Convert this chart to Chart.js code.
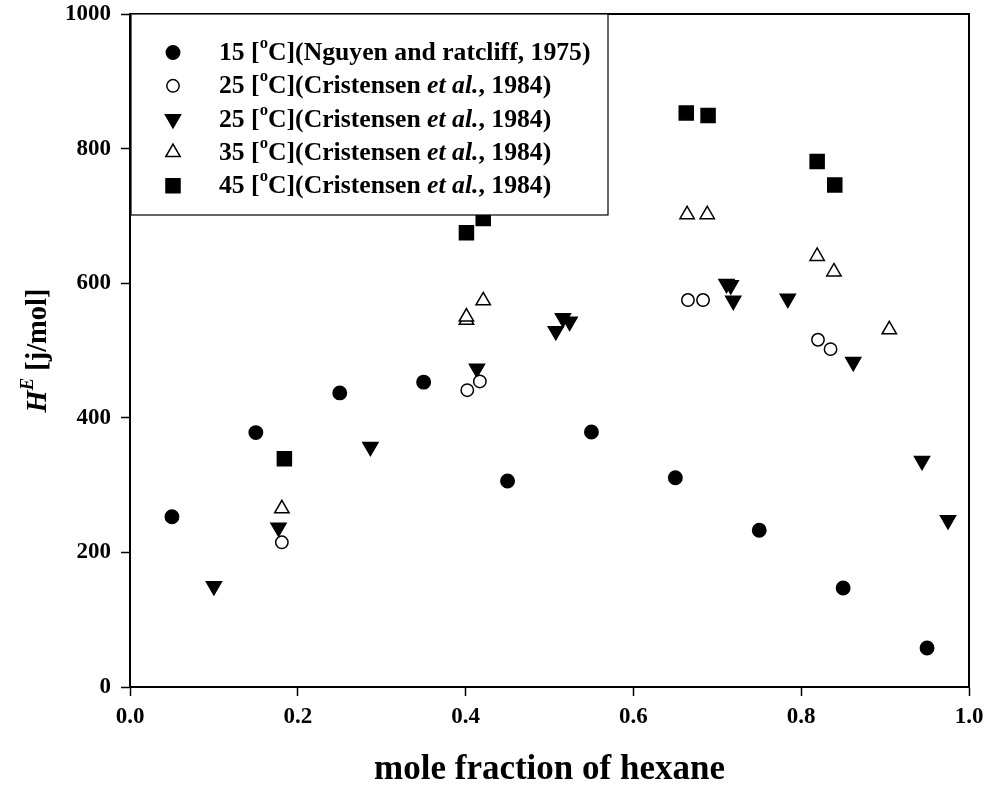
<!DOCTYPE html>
<html>
<head>
<meta charset="utf-8">
<script src="https://cdn.jsdelivr.net/npm/chart.js@4/dist/chart.umd.min.js"></script>
<style>
    body { margin: 0; background: #fff; }
    #wrap { width: 987px; height: 787px; }
</style>
</head>
<body>
<div id="wrap"><canvas id="graph" width="987" height="787"></canvas></div>
<script>
// 15 C, Nguyen and Ratcliff 1975 (filled circles)
const x15 = [0.05, 0.15, 0.25, 0.35, 0.45, 0.55, 0.65, 0.75, 0.85, 0.95]
const y15 = [253, 378, 437, 453, 306, 379, 311, 233, 147, 58]

// 25 C, Cristensen 1984 (open circles)
const x25a = [0.181, 0.402, 0.417, 0.665, 0.683, 0.82, 0.835]
const y25a = [215, 441, 454, 575, 575, 516, 502]

// 25 C, Cristensen 1984 (filled down triangles)
const x25b = [0.1, 0.177, 0.2865, 0.4135, 0.5075, 0.516, 0.524, 0.711, 0.716, 0.719, 0.784, 0.862, 0.944, 0.975]
const y25b = [150, 237, 357, 473, 529, 548, 543, 599, 597, 574, 577, 483, 336, 248]

// 35 C, Cristensen 1984 (open up triangles)
const x35 = [0.181, 0.401, 0.401, 0.421, 0.664, 0.688, 0.819, 0.839, 0.905]
const y35 = [265, 545, 550, 574, 702, 702, 640, 617, 531]

// 45 C, Cristensen 1984 (filled squares)
const x45 = [0.184, 0.401, 0.421, 0.663, 0.689, 0.819, 0.84]
const y45 = [339, 675, 696, 853, 849, 781, 746]

const xTicks = [0, 0.2, 0.4, 0.6, 0.8, 1.0]
const yTicks = [0, 200, 400, 600, 800, 1000]

const xTitle = "mole fraction of hexane"
const yTitle = [{ t: "H", it: true }, { t: "E", it: true, sup: true }, { t: " [j/mol]" }]

// legend texts, split so the superscript and italic parts can be drawn
const legendTexts = [
    [{ t: "15 [" }, { t: "o", sup: true }, { t: "C](Nguyen and ratcliff, 1975)" }],
    [{ t: "25 [" }, { t: "o", sup: true }, { t: "C](Cristensen " }, { t: "et al.", it: true }, { t: ", 1984)" }],
    [{ t: "25 [" }, { t: "o", sup: true }, { t: "C](Cristensen " }, { t: "et al.", it: true }, { t: ", 1984)" }],
    [{ t: "35 [" }, { t: "o", sup: true }, { t: "C](Cristensen " }, { t: "et al.", it: true }, { t: ", 1984)" }],
    [{ t: "45 [" }, { t: "o", sup: true }, { t: "C](Cristensen " }, { t: "et al.", it: true }, { t: ", 1984)" }],
]

const SERIF = '"Liberation Serif", "Times New Roman", serif'

const toPoints = (xs, ys) => xs.map((x, i) => ({ x, y: ys[i] }))

const markers = [
    { pointStyle: "circle", radius: 6.7, fill: "#000", rotation: 0 },
    { pointStyle: "circle", radius: 6.2, fill: "#fff", rotation: 0 },
    { pointStyle: "triangle", radius: 8.7, fill: "#000", rotation: 180 },
    { pointStyle: "triangle", radius: 8.3, fill: "#fff", rotation: 0 },
    { pointStyle: "rect", radius: 9.9, fill: "#000", rotation: 0 },
]

const seriesData = [
    toPoints(x15, y15),
    toPoints(x25a, y25a),
    toPoints(x25b, y25b),
    toPoints(x35, y35),
    toPoints(x45, y45),
]

const datasets = seriesData.map((data, i) => ({
    data,
    showLine: false,
    pointStyle: markers[i].pointStyle,
    pointRadius: markers[i].radius,
    pointHoverRadius: markers[i].radius,
    pointRotation: markers[i].rotation,
    pointBackgroundColor: markers[i].fill,
    pointBorderColor: "#000",
    pointBorderWidth: 1.5,
}))

const drawParts = (ctx, parts, x, y, size) => {
    for (let p of parts) {
        const s = p.sup ? size * 0.65 : size
        ctx.font = (p.it ? "italic " : "") + "bold " + s + "px " + SERIF
        const dy = p.sup ? -size * 0.38 : 0
        ctx.fillText(p.t, x, y + dy)
        x += ctx.measureText(p.t).width
    }
    return x
}

const partsWidth = (ctx, parts, size) => {
    let w = 0
    for (let p of parts) {
        const s = p.sup ? size * 0.65 : size
        ctx.font = (p.it ? "italic " : "") + "bold " + s + "px " + SERIF
        w += ctx.measureText(p.t).width
    }
    return w
}

const drawMarker = (ctx, m, x, y) => {
    ctx.save()
    ctx.fillStyle = m.fill
    ctx.strokeStyle = "#000"
    ctx.lineWidth = 1.5
    ctx.beginPath()
    if (m.pointStyle === "circle") {
        ctx.arc(x, y, m.radius, 0, Math.PI * 2)
    } else if (m.pointStyle === "triangle") {
        let rad = (m.rotation * Math.PI) / 180
        for (let k = 0; k < 3; k++) {
            const px = x + Math.sin(rad) * m.radius
            const py = y - Math.cos(rad) * m.radius
            if (k === 0) ctx.moveTo(px, py)
            else ctx.lineTo(px, py)
            rad += (Math.PI * 2) / 3
        }
        ctx.closePath()
    } else {
        const s = Math.SQRT1_2 * m.radius
        ctx.rect(x - s, y - s, 2 * s, 2 * s)
    }
    ctx.fill()
    ctx.stroke()
    ctx.restore()
}

const framePlugin = {
    id: "frame",
    afterDatasetsDraw(chart) {
        const { ctx, chartArea } = chart
        ctx.save()
        ctx.strokeStyle = "#000"
        ctx.lineWidth = 2
        ctx.beginPath()
        ctx.moveTo(chartArea.left, chartArea.top)
        ctx.lineTo(chartArea.right, chartArea.top)
        ctx.lineTo(chartArea.right, chartArea.bottom)
        ctx.stroke()
        ctx.restore()
    },
}

const legendPlugin = {
    id: "boxLegend",
    afterDraw(chart) {
        const { ctx, chartArea } = chart
        const left = chartArea.left + 1
        const top = chartArea.top
        const w = 477
        const h = 201
        ctx.save()
        ctx.fillStyle = "#fff"
        ctx.fillRect(left, top, w, h)
        ctx.strokeStyle = "#000"
        ctx.lineWidth = 1.2
        ctx.strokeRect(left, top, w, h)
        ctx.fillStyle = "#000"
        ctx.textBaseline = "middle"
        ctx.textAlign = "left"
        legendTexts.forEach((parts, i) => {
            const y = top + 38.5 + i * 33.3
            drawMarker(ctx, markers[i], left + 42, y)
            drawParts(ctx, parts, left + 88, y + 1, 25.7)
        })
        ctx.restore()
    },
}

const yTitlePlugin = {
    id: "yTitle",
    afterDraw(chart) {
        const { ctx, chartArea } = chart
        const size = 28.5
        ctx.save()
        ctx.translate(39, (chartArea.top + chartArea.bottom) / 2)
        ctx.rotate(-Math.PI / 2)
        ctx.fillStyle = "#000"
        ctx.textBaseline = "middle"
        ctx.textAlign = "left"
        const w = partsWidth(ctx, yTitle, size)
        drawParts(ctx, yTitle, -w / 2, 0, size)
        ctx.restore()
    },
}

const ctx1 = document.getElementById("graph")

const config = {
    type: "scatter",
    data: { datasets },
    options: {
        responsive: false,
        animation: false,
        events: [],
        layout: {
            padding: { top: 14, right: 18, left: 0, bottom: 0 },
        },
        plugins: {
            legend: { display: false },
            tooltip: { enabled: false },
        },
        scales: {
            x: {
                type: "linear",
                min: 0,
                max: 1,
                afterFit: (scale) => {
                    scale.height = 100
                    scale.paddingLeft = 0
                    scale.paddingRight = 0
                },
                afterBuildTicks: (scale) => {
                    scale.ticks = xTicks.map((v) => ({ value: v }))
                },
                border: { display: true, color: "#000", width: 2 },
                grid: {
                    display: true,
                    drawOnChartArea: false,
                    drawTicks: true,
                    tickLength: 9,
                    tickColor: "#000",
                    tickWidth: 1.5,
                },
                ticks: {
                    color: "#000",
                    padding: 7,
                    maxRotation: 0,
                    autoSkip: false,
                    font: { family: SERIF, size: 23, weight: "bold" },
                    callback: (v) => Number(v).toFixed(1),
                },
                title: {
                    display: true,
                    text: xTitle,
                    color: "#000",
                    padding: { top: 4, bottom: -4 },
                    font: { family: SERIF, size: 35, weight: "bold" },
                },
            },
            y: {
                type: "linear",
                min: 0,
                max: 1000,
                afterFit: (scale) => {
                    scale.width = 130
                    scale.paddingTop = 0
                    scale.paddingBottom = 0
                },
                afterBuildTicks: (scale) => {
                    scale.ticks = yTicks.map((v) => ({ value: v }))
                },
                border: { display: true, color: "#000", width: 2 },
                grid: {
                    display: true,
                    drawOnChartArea: false,
                    drawTicks: true,
                    tickLength: 9,
                    tickColor: "#000",
                    tickWidth: 1.5,
                },
                ticks: {
                    color: "#000",
                    padding: 10,
                    font: { family: SERIF, size: 23, weight: "bold" },
                    callback: (v) => String(v),
                },
            },
        },
    },
    plugins: [framePlugin, legendPlugin, yTitlePlugin],
}

const chart = new Chart(ctx1, config)
</script>
</body>
</html>
